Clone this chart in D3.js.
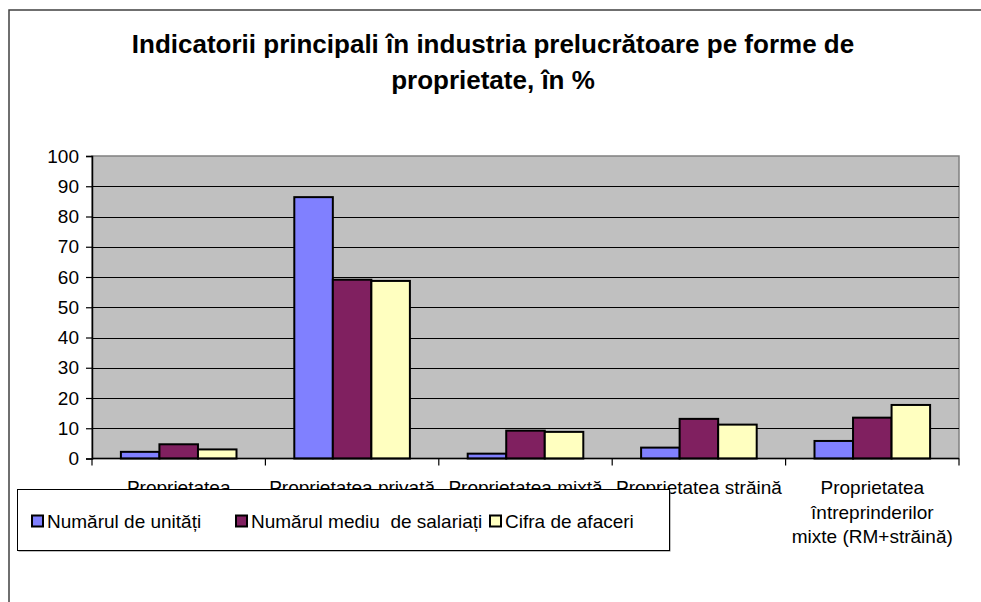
<!DOCTYPE html>
<html>
<head>
<meta charset="utf-8">
<script src="https://cdn.jsdelivr.net/npm/d3@7"></script>
<style>
  body { margin: 0; background: #fff; }
  text { font-family: Arial, "Liberation Sans", sans-serif; }
</style>
</head>
<body>
<div id="chart"></div>
<script>
// only the visible first line of the first label is kept (rest sits under the legend)
var categories = [
    ["Proprietatea"],
    ["Proprietatea privată"],
    ["Proprietatea mixtă"],
    ["Proprietatea străină"],
    ["Proprietatea", "întreprinderilor", "mixte (RM+străină)"]
];
var seriesNames = ["Numărul de unități", "Numărul mediu  de salariați", "Cifra de afaceri"];
var unitati   = [2.2, 86.4, 1.6, 3.6, 5.8];
var salariati = [4.7, 59.1, 9.2, 13.1, 13.5];
var afaceri   = [3.0, 58.7, 8.8, 11.2, 17.7];
var yTicks = [0, 10, 20, 30, 40, 50, 60, 70, 80, 90, 100];

var colors = ["#8080FF", "#802060", "#FFFFC0"];
var series = [unitati, salariati, afaceri];

var width = 981, height = 602;
var plot = {left: 92, right: 959, top: 156, bottom: 458.5};

var svg = d3.select("#chart").append("svg")
    .attr("width", width)
    .attr("height", height)
    .style("background-color", "white");

// outer chart border (only top and left visible)
svg.append("path")
    .attr("d", "M9,603 L9,10 L982,10")
    .attr("fill", "none")
    .attr("stroke", "#404040")
    .attr("stroke-width", 1.5);

// title
var title = svg.append("text")
    .attr("text-anchor", "middle")
    .style("font-size", "26px")
    .style("font-weight", "bold")
    .attr("fill", "#000");
title.append("tspan").attr("x", 493).attr("y", 53)
    .text("Indicatorii principali în industria prelucrătoare pe forme de");
title.append("tspan").attr("x", 493).attr("y", 89)
    .text("proprietate, în %");

var catIdx = d3.range(categories.length);

var x0 = d3.scaleBand()
    .domain(catIdx)
    .range([plot.left, plot.right])
    .padding(0);

var x1 = d3.scaleBand()
    .domain(d3.range(series.length))
    .range([0, x0.bandwidth()])
    .paddingInner(0)
    .paddingOuter(0.75);

var y = d3.scaleLinear()
    .domain([0, 100])
    .range([plot.bottom, plot.top]);

// plot background
svg.append("rect")
    .attr("x", plot.left)
    .attr("y", plot.top)
    .attr("width", plot.right - plot.left)
    .attr("height", plot.bottom - plot.top)
    .attr("fill", "#C0C0C0")
    .attr("stroke", "#808080")
    .attr("stroke-width", 1.5);

// gridlines
svg.append("g")
    .selectAll("line")
    .data(yTicks.filter(function(d) { return d > 0 && d < 100; }))
    .enter()
    .append("line")
    .attr("x1", plot.left)
    .attr("x2", plot.right)
    .attr("y1", function(d) { return Math.round(y(d)) + 0.5; })
    .attr("y2", function(d) { return Math.round(y(d)) + 0.5; })
    .attr("stroke", "#000")
    .attr("stroke-width", 1.2);

// y axis
var yAxis = svg.append("g")
    .attr("transform", "translate(" + plot.left + ",0)")
    .call(d3.axisLeft(y).tickValues(yTicks).tickSize(6).tickPadding(7));
yAxis.select(".domain").attr("stroke", "#000").attr("stroke-width", 1.5);
yAxis.selectAll(".tick line").attr("stroke", "#000").attr("stroke-width", 1.2);
yAxis.selectAll(".tick text")
    .style("font-size", "19px")
    .style("font-family", "Arial, 'Liberation Sans', sans-serif")
    .attr("fill", "#000");

// bars
var groups = svg.append("g")
    .selectAll("g")
    .data(catIdx)
    .enter()
    .append("g")
    .attr("transform", function(i) { return "translate(" + x0(i) + ",0)"; });

groups.selectAll("rect")
    .data(function(i) {
        return series.map(function(s, k) { return {k: k, v: s[i]}; });
    })
    .enter()
    .append("rect")
    .attr("x", function(d) { return x1(d.k); })
    .attr("y", function(d) { return y(d.v); })
    .attr("width", x1.bandwidth())
    .attr("height", function(d) { return y(0) - y(d.v); })
    .attr("fill", function(d) { return colors[d.k]; })
    .attr("stroke", "#000")
    .attr("stroke-width", 2);

// x axis line and ticks
var xAxis = svg.append("g");
xAxis.append("line")
    .attr("x1", plot.left)
    .attr("x2", plot.right)
    .attr("y1", y(0))
    .attr("y2", y(0))
    .attr("stroke", "#000")
    .attr("stroke-width", 1.5);
xAxis.selectAll("line.tick")
    .data(catIdx.concat([categories.length]))
    .enter()
    .append("line")
    .attr("class", "tick")
    .attr("x1", function(i) { return i < categories.length ? x0(i) : plot.right; })
    .attr("x2", function(i) { return i < categories.length ? x0(i) : plot.right; })
    .attr("y1", y(0))
    .attr("y2", y(0) + 7)
    .attr("stroke", "#000")
    .attr("stroke-width", 1.2);

// category labels
var catLabels = svg.append("g")
    .selectAll("text")
    .data(catIdx)
    .enter()
    .append("text")
    .attr("text-anchor", "middle")
    .style("font-size", "19px")
    .attr("fill", "#000");
catLabels.selectAll("tspan")
    .data(function(i) {
        return categories[i].map(function(t) { return {t: t, i: i}; });
    })
    .enter()
    .append("tspan")
    .attr("x", function(d) { return x0(d.i) + x0.bandwidth() / 2; })
    .attr("y", function(d, j) { return 494 + j * 24.5; })
    .text(function(d) { return d.t; });

// legend
var legend = svg.append("g");
legend.append("rect")
    .attr("x", 18.5)
    .attr("y", 490.5)
    .attr("width", 652)
    .attr("height", 61)
    .attr("fill", "#808080");
legend.append("rect")
    .attr("x", 17.5)
    .attr("y", 489.5)
    .attr("width", 652)
    .attr("height", 61)
    .attr("fill", "#fff")
    .attr("stroke", "#000")
    .attr("stroke-width", 1);

var legendX = [32, 236, 490];
var items = legend.selectAll("g.item")
    .data(seriesNames)
    .enter()
    .append("g")
    .attr("class", "item")
    .attr("transform", function(d, k) { return "translate(" + legendX[k] + ",521)"; });
items.append("rect")
    .attr("x", 0)
    .attr("y", -5.5)
    .attr("width", 11)
    .attr("height", 11)
    .attr("fill", function(d, k) { return colors[k]; })
    .attr("stroke", "#000")
    .attr("stroke-width", 2);
items.append("text")
    .attr("x", 15)
    .attr("y", 7)
    .style("font-size", "19px")
    .style("white-space", "pre")
    .attr("xml:space", "preserve")
    .attr("fill", "#000")
    .text(function(d) { return d; });
</script>
</body>
</html>
